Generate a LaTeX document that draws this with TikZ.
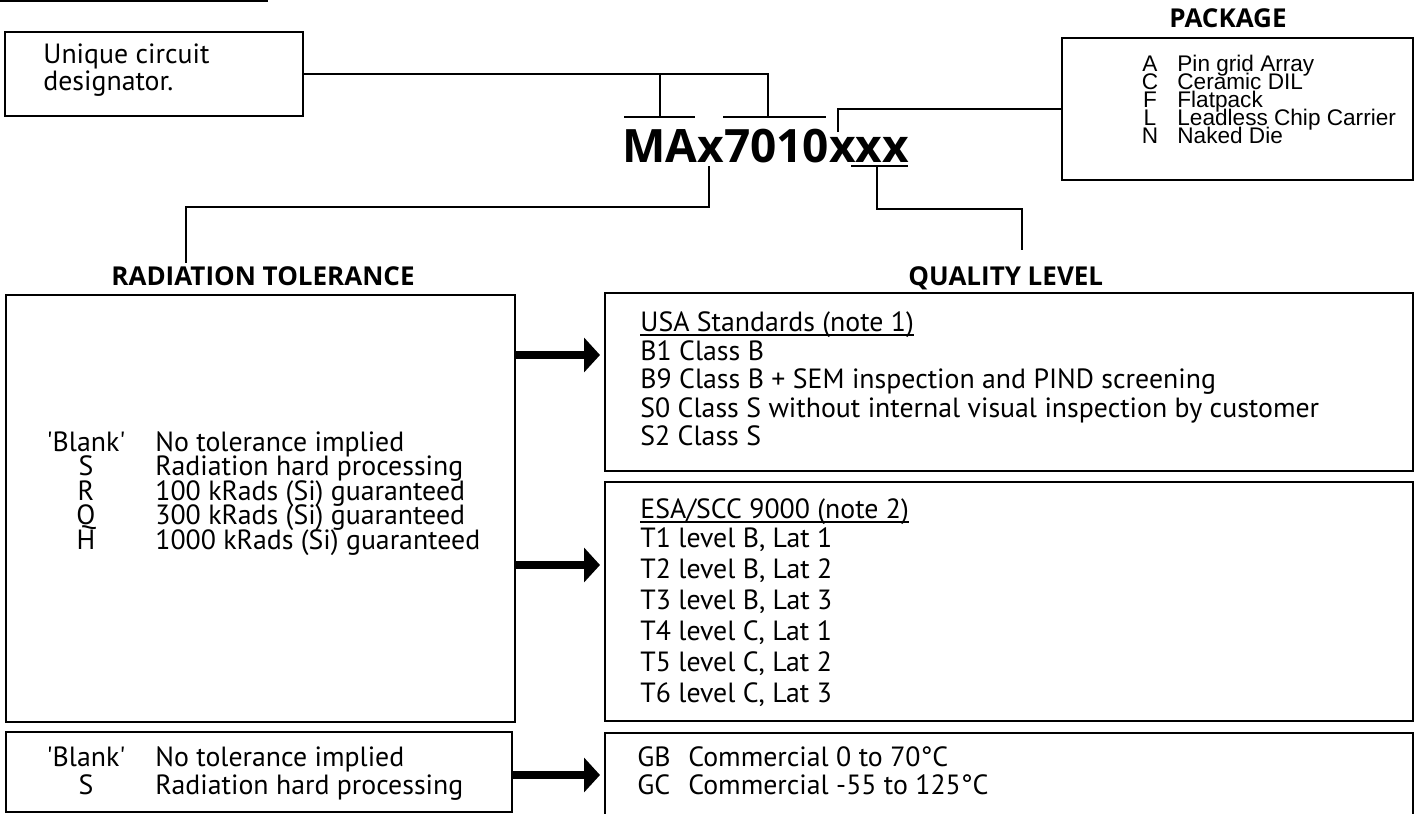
\documentclass[tikz,border=0pt]{standalone}
\usepackage{fontspec}
\setmainfont{PT Sans}
\newfontfamily\pkgfont{Liberation Sans}
\newfontfamily\headfont{Open Sans}
\usetikzlibrary{arrows.meta,fit}

\tikzset{
  box/.style={draw, line width=1pt, inner sep=0pt},
  wire/.style={line width=0.9pt},
  bigarrow/.style={line width=4pt, shorten >=2pt, -{Triangle[length=8pt,width=17pt]}},
  headtxt/.style={font=\headfont\fontsize{13}{14}\selectfont\bfseries, anchor=base west, inner sep=0pt},
  entry/.style={font=\fontsize{13.9}{14}\selectfont, anchor=base west, inner sep=0pt},
  codetxt/.style={font=\fontsize{13.9}{14}\selectfont, anchor=base, inner sep=0pt},
  pkgtxt/.style={font=\pkgfont\fontsize{11.3}{11}\selectfont, anchor=base west, inner sep=0pt},
}

\begin{document}
\begin{tikzpicture}[x=0.5pt,y=-0.5pt]
  \clip (0,0) rectangle (1420,814);
  % scanned page edge
  \draw[line width=1pt] (0,1) -- (268,1);

  % designator box
  \node[box, fit={(5,32) (303,116)}] (desig) {};
  \node[entry] (desigA) at (43,63) {Unique circuit};
  \node[entry] (desigB) at (43,90) {designator.};

  % part number
  \node[headtxt, font=\headfont\fontsize{23}{24}\selectfont\bfseries] (partno) at (622,162) {MAx7010xxx};
  \draw[wire] (624,117) -- (695,117);
  \draw[wire] (723,117) -- (826,117);
  \draw[wire] (851,166) -- (908,166);
  \coordinate (tapMA) at (660,117);
  \coordinate (tapNum) at (768,117);
  \draw[wire] (desig.east) -| (tapNum);
  \draw[wire] (desig.east -| tapMA) -- (tapMA);

  % package
  \node[headtxt, anchor=base] (pkghead) at (1228,27) {PACKAGE};
  \node[box, fit={(1062,38) (1413,180)}] (pkg) {};
  \coordinate (tapPkg) at (838,132);
  \draw[wire] (tapPkg) |- (pkg.west);
  \foreach \k/\d [count=\i from 0] in {A/Pin grid Array, C/Ceramic DIL, F/Flatpack,
      L/Leadless Chip Carrier, N/Naked Die} {
    \node[pkgtxt, anchor=base] (pkgL\i) at (1150,71+18*\i) {\k};
    \node[pkgtxt] (pkgD\i) at (1177,71+18*\i) {\d};
  }

  % radiation tolerance
  \coordinate (tapRad) at (709,166);
  \coordinate (endRad) at (186,263);
  \draw[wire] (tapRad) -- ++(0,41) -| (endRad);
  \node[headtxt] (radhead) at (111,285) {RADIATION TOLERANCE};
  \node[box, fit={(6,295) (515,722)}] (radbig) {};
  \node[box, fit={(6,732) (512,812)}] (radsmall) {};
  \foreach \c/\d [count=\i from 0] in {\textquotesingle Blank\textquotesingle/No tolerance implied,
      S/Radiation hard processing, R/100 kRads (Si) guaranteed,
      Q/300 kRads (Si) guaranteed, H/1000 kRads (Si) guaranteed} {
    \node[codetxt] (radC\i) at (86,451+24.5*\i) {\c};
    \node[entry] (radD\i) at (155,451+24.5*\i) {\d};
  }
  \node[codetxt] (radC5) at (86,766) {\textquotesingle Blank\textquotesingle};
  \node[entry] (radD5) at (155,766) {No tolerance implied};
  \node[codetxt] (radC6) at (86,794) {S};
  \node[entry] (radD6) at (155,794) {Radiation hard processing};

  % quality level
  \coordinate (tapQ) at (877,166);
  \coordinate (endQ) at (1022,250);
  \draw[wire] (tapQ) -- ++(0,43) -| (endQ);
  \node[headtxt] (qhead) at (908,285) {QUALITY LEVEL};
  \node[box, fit={(605,293) (1413,471)}] (qusa) {};
  \node[box, fit={(605,482) (1413,721)}] (qesa) {};
  \node[box, fit={(605,733) (1413,840)}] (qcom) {};

  \node[entry] (usa) at (640,331) {USA Standards (note 1)};
  \draw[wire] ([yshift=-2pt]usa.base west) -- ([yshift=-2pt]usa.base east);
  \foreach \t [count=\i from 0] in {B1 Class B, B9 Class B + SEM inspection and PIND screening,
      S0 Class S without internal visual inspection by customer, S2 Class S} {
    \node[entry] (usa\i) at (640,360+28.6*\i) {\t};
  }
  \node[entry] (esa) at (640,518) {ESA/SCC 9000 (note 2)};
  \draw[wire] ([yshift=-2pt]esa.base west) -- ([yshift=-2pt]esa.base east);
  \foreach \t [count=\i from 0] in {{T1 level B, Lat 1}, {T2 level B, Lat 2},
      {T3 level B, Lat 3}, {T4 level C, Lat 1}, {T5 level C, Lat 2},
      {T6 level C, Lat 3}} {
    \node[entry] (esa\i) at (640,547+31*\i) {\t};
  }
  \node[entry] (comC0) at (637,766) {GB};
  \node[entry] (comD0) at (688,766) {Commercial 0 to 70°C};
  \node[entry] (comC1) at (637,794) {GC};
  \node[entry] (comD1) at (688,794) {Commercial -55 to 125°C};

  % arrows
  \coordinate (arrA) at (515,355);
  \coordinate (arrB) at (515,565);
  \coordinate (arrC) at (512,775);
  \draw[bigarrow] (arrA) -- (arrA -| qusa.west);
  \draw[bigarrow] (arrB) -- (arrB -| qesa.west);
  \draw[bigarrow] (arrC) -- (arrC -| qcom.west);
\end{tikzpicture}
\end{document}
